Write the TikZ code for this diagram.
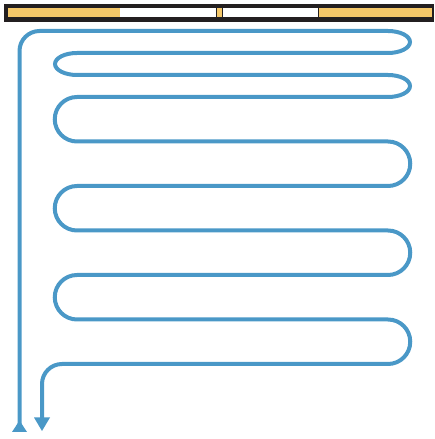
\documentclass[tikz,border=0pt]{standalone}
\usepackage{tikz}
\definecolor{flowblue}{RGB}{74,152,199}
\definecolor{baryellow}{RGB}{245,200,105}
\definecolor{barblack}{RGB}{35,31,32}
\begin{document}
\begin{tikzpicture}[x=1pt,y=1pt,
  flow/.style={draw=flowblue,line width=4pt},
  tip/.style={fill=flowblue},
  seg/.style={draw=none}]
\useasboundingbox (0,0) rectangle (434,439);
% top bar
\fill[barblack] (3.5,417) rectangle (434,435);
\fill[baryellow] (8,421.5) rectangle (119.5,431);
\fill[white] (120.2,421.5) rectangle (215.5,431);
\fill[baryellow] (216.5,421.5) rectangle (221.5,431);
\fill[white] (222.5,421.5) rectangle (318.3,431);
\fill[baryellow] (319.2,421.5) rectangle (432,431);
% serpentine path
\draw[flow] (19.5,14) -- (19.5,388)
  arc[start angle=180,end angle=90,radius=20pt] -- (388,408)
  arc[start angle=90,end angle=-90,x radius=22pt,y radius=11pt] -- (77,386)
  arc[start angle=90,end angle=270,x radius=22pt,y radius=11pt] -- (388,364)
  arc[start angle=90,end angle=-90,x radius=22pt,y radius=11pt] -- (77,342)
  arc[start angle=90,end angle=270,radius=22.25pt] -- (388,297.5)
  arc[start angle=90,end angle=-90,radius=22.25pt] -- (77,253)
  arc[start angle=90,end angle=270,radius=22.25pt] -- (388,208.5)
  arc[start angle=90,end angle=-90,radius=22.25pt] -- (77,164)
  arc[start angle=90,end angle=270,radius=22.25pt] -- (388,119.5)
  arc[start angle=90,end angle=-90,radius=22.25pt] -- (62,75)
  arc[start angle=90,end angle=180,radius=20pt] -- (42,20);
% arrow heads
\fill[tip] (12,7) -- (27,7) -- (19.5,18.5) -- cycle;
\fill[tip] (34,21.5) -- (50,21.5) -- (42,8) -- cycle;
\end{tikzpicture}
\end{document}
